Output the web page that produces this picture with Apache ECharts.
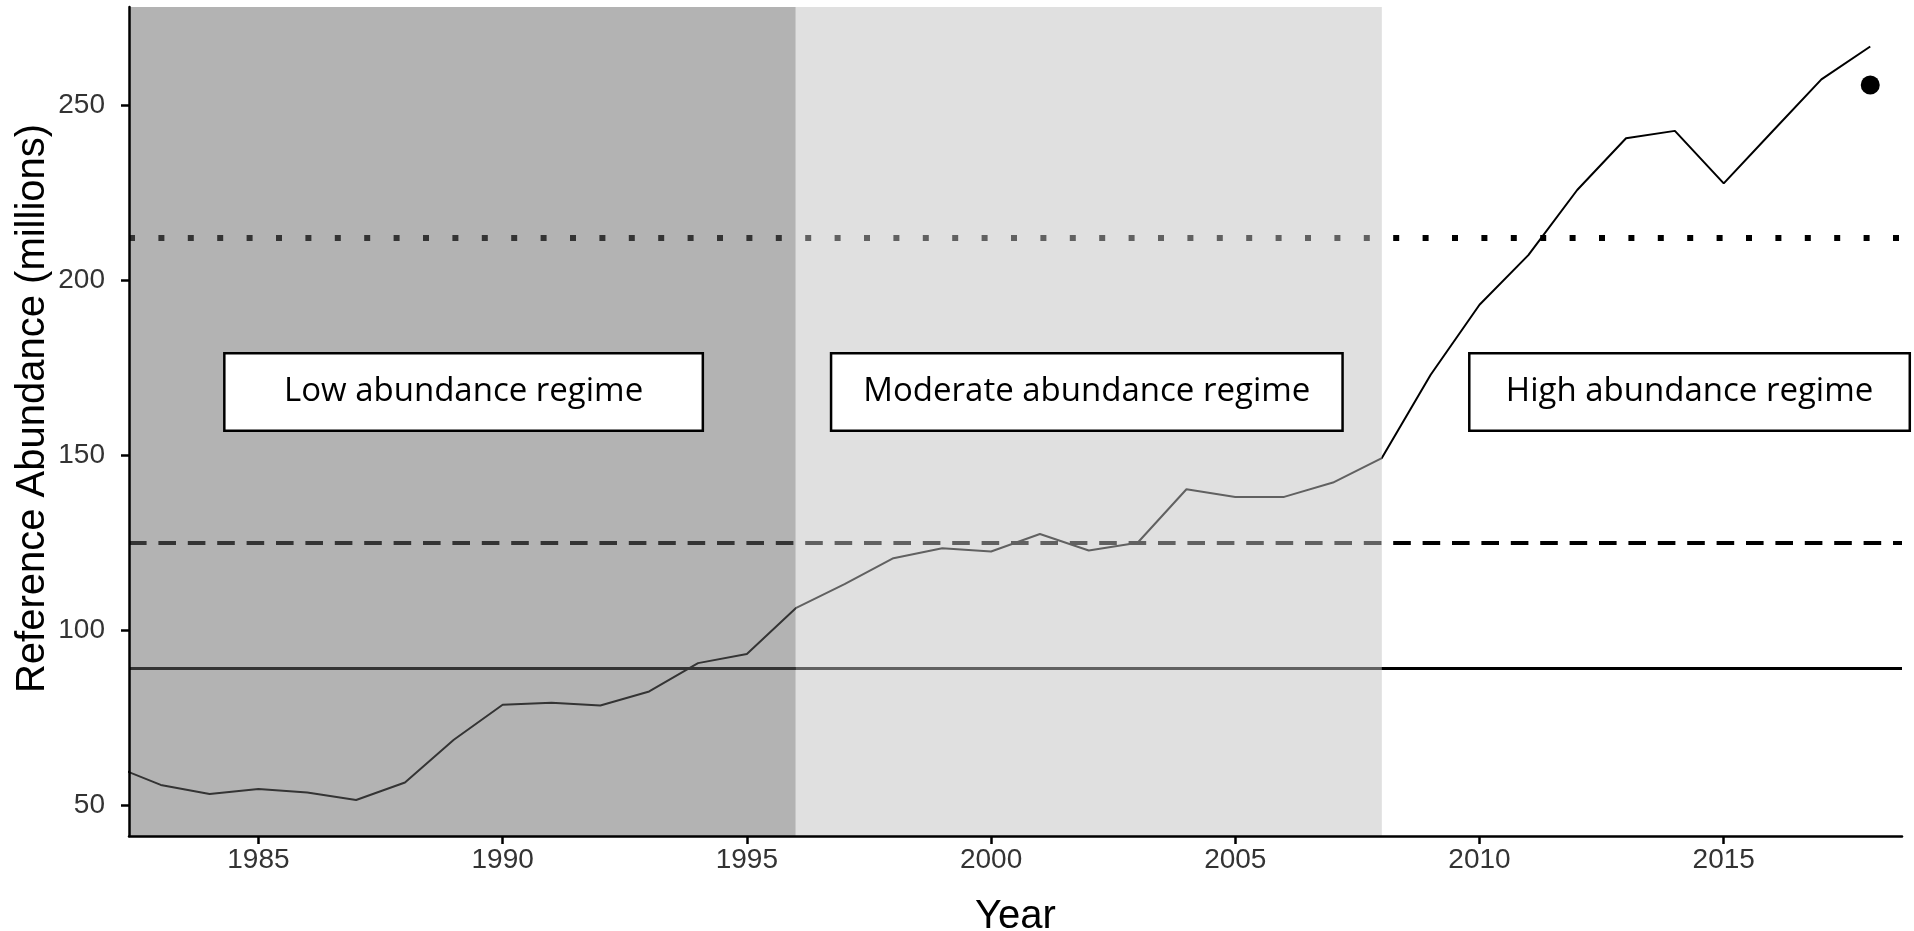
<!DOCTYPE html>
<html><head><meta charset="utf-8">
<script src="https://cdn.jsdelivr.net/npm/echarts@6/dist/echarts.min.js"></script>
<style>html,body{margin:0;padding:0;background:#fff}#c{width:1914px;height:931px}</style>
</head><body><div id="c"></div>
<script>
// ---- data ----
const years = [1982,1983,1984,1985,1986,1987,1988,1989,1990,1991,1992,1993,1994,1995,1996,1997,1998,1999,2000,2001,2002,2003,2004,2005,2006,2007,2008,2009,2010,2011,2012,2013,2014,2015,2016,2017,2018];
const abundance = [61.3,55.7,53.1,54.5,53.5,51.4,56.4,68.6,78.6,79.2,78.4,82.4,90.5,93.1,106.2,113.1,120.5,123.3,122.4,127.4,122.7,124.9,140.2,138.0,138.0,142.1,149.1,172.9,192.9,207.1,225.7,240.5,242.6,227.6,242.5,257.3,266.7];
const pointYear = [2018];
const pointValue = [255.7];
const refLineValues = [89, 125, 212];           // solid, dashed, dotted
const regimeBreaks = [1996, 2008];               // low | moderate | high
const regimeNames = ['Low abundance regime', 'Moderate abundance regime', 'High abundance regime'];
const regimeLabelX = [1989.2, 2001.96, 2014.3];
const regimeLabelY = [168, 168, 168];
const xTicks = [1985, 1990, 1995, 2000, 2005, 2010, 2015];
const yTicks = [50, 100, 150, 200, 250];
const xRange = [1982.35, 2018.65];
const yRange = [41.1, 278];

// ---- styles ----
const AXIS_FONT = "'Liberation Sans', Arial, sans-serif";
const boxWidths = [481, 514, 443];
const refLineStyles = [
  { type: 'solid', width: 3 },
  { type: [17.6, 11.8], width: 4 },
  { type: [6, 23.4], width: 6 }
];
const shadeColors = ['rgba(103,103,103,0.5)', 'rgba(193,193,193,0.5)'];

const chart = echarts.init(document.getElementById('c'), null, { renderer: 'canvas' });

const tickStyle = { color: '#000', width: 2.5 };

const option = {
  animation: false,
  backgroundColor: '#fff',
  grid: { left: 129, right: 12, top: 7, bottom: 95, containLabel: false, outerBoundsMode: 'none' },
  xAxis: {
    type: 'value', z: 20,
    min: xRange[0], max: xRange[1],
    splitLine: { show: false },
    axisLine: { show: true, lineStyle: { color: '#000', width: 2.5 } },
    name: 'Year', nameLocation: 'middle', nameGap: 61, nameMoveOverlap: false,
    nameTextStyle: { fontFamily: AXIS_FONT, color: '#000', fontSize: 40 },
    axisTick: { show: true, length: 8, lineStyle: tickStyle, customValues: xTicks },
    axisLabel: { customValues: xTicks, fontFamily: AXIS_FONT, fontSize: 28, color: '#333', margin: 10,
                 formatter: v => String(v) }
  },
  yAxis: {
    type: 'value', z: 20,
    min: yRange[0], max: yRange[1],
    splitLine: { show: false },
    axisLine: { show: true, lineStyle: { color: '#000', width: 2.5 } },
    name: 'Reference Abundance (millions)', nameLocation: 'middle', nameGap: 76, nameMoveOverlap: false,
    nameTextStyle: { fontFamily: AXIS_FONT, color: '#000', fontSize: 40, padding: [0, 0, 0, 26] },
    axisTick: { show: true, length: 8, lineStyle: tickStyle, customValues: yTicks },
    axisLabel: { customValues: yTicks, fontFamily: AXIS_FONT, fontSize: 28, color: '#333', margin: 24,
                 formatter: v => String(v) }
  },
  series: [
    {
      name: 'abundance',
      type: 'line',
      z: 2,
      symbol: 'none',
      clip: true,
      lineStyle: { color: '#000', width: 2 },
      data: years.map((y, i) => [y, abundance[i]]),
      markLine: {
        silent: true,
        symbol: ['none', 'none'],
        label: { show: false },
        z: 3,
        data: refLineValues.map((v, i) => ({
          yAxis: v,
          lineStyle: Object.assign({ color: '#000', cap: 'butt' }, refLineStyles[i])
        }))
      }
    },
    {
      name: 'point',
      type: 'scatter',
      z: 4,
      symbolSize: 19,
      itemStyle: { color: '#000', opacity: 1 },
      data: pointYear.map((y, i) => [y, pointValue[i]]),
      markArea: {
        silent: true,
        z: 10,
        label: { show: false },
        data: [
          [{ xAxis: xRange[0], itemStyle: { color: shadeColors[0], opacity: 1 } }, { xAxis: regimeBreaks[0] }],
          [{ xAxis: regimeBreaks[0], itemStyle: { color: shadeColors[1], opacity: 1 } }, { xAxis: regimeBreaks[1] }]
        ]
      }
    },
    {
      name: 'regimes',
      type: 'scatter',
      zlevel: 1,
      z: 30,
      symbolSize: 1,
      itemStyle: { color: 'rgba(0,0,0,0)', opacity: 1 },
      silent: true,
      label: {
        show: true,
        position: 'inside',
        formatter: '{b}',
        fontFamily: "'Open Sans', sans-serif",
        fontSize: 33,
        color: '#000',
        textBorderWidth: 0,
        backgroundColor: '#fff',
        borderColor: '#000',
        borderWidth: 2.5,
        padding: [21, 0],
        align: 'center',
        verticalAlign: 'middle'
      },
      data: regimeNames.map((n, i) => ({
        name: n,
        value: [regimeLabelX[i], regimeLabelY[i]],
        label: { width: boxWidths[i] - 5 }
      }))
    }
  ]
};
chart.setOption(option);
</script>
</body></html>
